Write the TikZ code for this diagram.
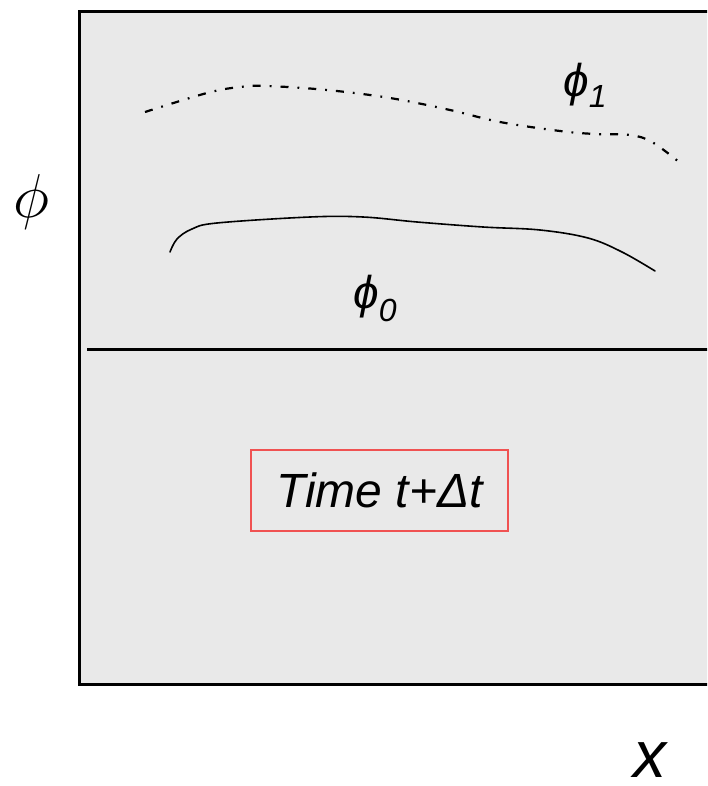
\RequirePackage{fix-cm}
\documentclass[tikz,border=0pt]{standalone}
\usepackage{fontspec}
\setmainfont{Liberation Sans}
\usepackage{tikz}
\usetikzlibrary{positioning,calc}
\definecolor{panel}{HTML}{E9E9E9}
\definecolor{stamp}{HTML}{F05252}
\tikzset{
  frame/.style={draw=black,line width=3pt,fill=panel},
  lbl/.style={inner sep=0pt,anchor=base west,font=\itshape},
  timebox/.style={rectangle,draw=stamp,line width=2pt,fill=panel,
    minimum width=257pt,minimum height=81pt,inner sep=0pt,
    font=\fontsize{48}{54}\selectfont\itshape},
  curve/.style={line width=1.6pt,line cap=round},
  dashdot/.style={line width=2.2pt,dash pattern=on 8pt off 9pt on 1.8pt off 9pt},
}

\begin{document}
\begin{tikzpicture}[x=1pt,y=-1pt]
  \clip (0,0) rectangle (707,786);
  \fill[white] (0,0) rectangle (707,786);
  % panel and divider
  \draw[frame] (79,12) rectangle (720,684);
  \coordinate (divl) at (87,349);
  \coordinate (divr) at (720,349);
  \draw[line width=3pt] (divl) -- (divr);
  % the two profiles
  \draw[dashdot] plot[smooth,tension=0.6] coordinates {(145,112) (207,93) (240,87)
    (267,86) (327,90) (390,98) (450,110) (500,122) (560,131) (595,134)
    (630,135) (652,142) (679,162)};
  \draw[curve] plot[smooth,tension=0.6] coordinates {(170,252) (177,239)
    (192,229) (217,223) (310,217) (363,217) (417,222) (483,227) (540,230)
    (588,238) (622,252) (655,271)};
  \node[lbl,font=\fontsize{46}{46}\selectfont\itshape] (p1) at (563,97)
    {ϕ\raisebox{-11pt}{\fontsize{32}{32}\selectfont 1}};
  \node[lbl,font=\fontsize{46}{46}\selectfont\itshape] (p0) at (353,308)
    {ϕ\raisebox{-13pt}{\fontsize{32}{32}\selectfont 0}};
  \node[timebox] (time) at (379.5,490.5) {Time t+Δt};
  % axis letters
  \node[lbl,font=\fontsize{62}{62}\selectfont] (phi) at (13,218) {$\phi$};
  \node[lbl,font=\fontsize{66}{66}\selectfont\itshape] (xax) at (633,777) {x};
\end{tikzpicture}
\end{document}
